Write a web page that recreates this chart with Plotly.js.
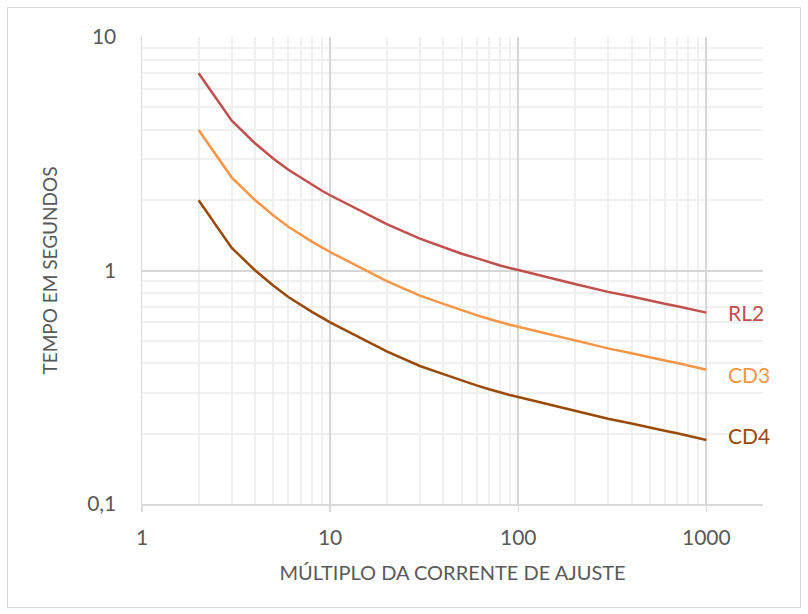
<!DOCTYPE html>
<html>
<head>
<meta charset="utf-8">
<script src="https://cdn.plot.ly/plotly-3.0.1.min.js"></script>
<style>
  html, body { margin: 0; padding: 0; background: #fff; }
  #wrap { position: relative; width: 808px; height: 614px; }
  #chart { width: 808px; height: 614px; }
  #frame { position: absolute; left: 7px; top: 7px; width: 792px; height: 599px; border: 1px solid #D9D9D9; pointer-events: none; }
</style>
</head>
<body>
<div id="wrap"><div id="chart"></div><div id="frame"></div></div>
<script>
// Multiples of setting current
const multiples = [2, 3, 4, 5, 6, 7, 8, 9, 10, 20, 30, 40, 50, 60, 70, 80, 90, 100,
                   200, 300, 400, 500, 600, 700, 800, 900, 1000];
// Operating times (s)
const rl2 = [7.0, 4.38, 3.5, 3.01, 2.7, 2.49, 2.33, 2.2, 2.1, 1.58, 1.37, 1.26, 1.18, 1.13, 1.085, 1.05, 1.025, 1.005,
             0.875, 0.81, 0.774, 0.742, 0.72, 0.703, 0.686, 0.672, 0.66];
const cd3 = [4.0, 2.5, 2.0, 1.72, 1.54, 1.42, 1.33, 1.26, 1.2, 0.9, 0.78, 0.72, 0.676, 0.644, 0.62, 0.60, 0.586, 0.574,
             0.5, 0.464, 0.442, 0.424, 0.412, 0.402, 0.392, 0.384, 0.376];
const cd4 = [2.0, 1.25, 1.0, 0.86, 0.77, 0.71, 0.665, 0.63, 0.6, 0.45, 0.39, 0.36, 0.338, 0.322, 0.31, 0.30, 0.293, 0.287,
             0.25, 0.232, 0.221, 0.212, 0.206, 0.201, 0.196, 0.192, 0.188];
const seriesNames = ['RL2', 'CD3', 'CD4'];
const seriesColors = ['#C0504D', '#F79646', '#9A4A07'];

const xTickVals = [1, 10, 100, 1000];
const xTickText = ['1', '10', '100', '1000'];
const yTickVals = [0.1, 1, 10];
const yTickText = ['0,1', '1', '10'];
const xMinor = [2,3,4,5,6,7,8,9,20,30,40,50,60,70,80,90,200,300,400,500,600,700,800,900,2000];
const yMinor = [0.2,0.3,0.4,0.5,0.6,0.7,0.8,0.9,2,3,4,5,6,7,8,9];

const data = [rl2, cd3, cd4];
const traces = data.map((ys, i) => ({
  x: multiples, y: ys, type: 'scatter', mode: 'lines', name: seriesNames[i],
  line: {color: seriesColors[i], width: 2.5}, hoverinfo: 'skip'
}));

const FONT = 'Lato, "Open Sans", sans-serif';
const labelShift = [0, -5, 4];
const annotations = data.map((ys, i) => ({
  x: Math.log10(multiples[multiples.length - 1]),
  y: Math.log10(ys[ys.length - 1]),
  xref: 'x', yref: 'y', text: seriesNames[i], showarrow: false,
  xanchor: 'left', yanchor: 'middle', xshift: 20, yshift: labelShift[i],
  font: {family: FONT, size: 21, color: seriesColors[i]}
}));

const layout = {
  width: 808, height: 614,
  margin: {l: 142, r: 45, t: 37, b: 110},
  paper_bgcolor: '#ffffff', plot_bgcolor: '#ffffff',
  showlegend: false,
  font: {family: FONT, size: 20, color: '#595959'},
  xaxis: {
    type: 'log', range: [0, Math.log10(2000)],
    tickvals: xTickVals, ticktext: xTickText,
    showgrid: true, gridcolor: '#D6D6D6', gridwidth: 2,
    minor: {tickvals: xMinor, showgrid: true, gridcolor: '#F0F0F0', gridwidth: 2, ticks: ''},
    showline: true, linecolor: '#D9D9D9', linewidth: 1.5,
    ticks: 'outside', ticklen: 6, tickcolor: '#D9D9D9', tickwidth: 1.5,
    ticklabelstandoff: 8,
    zeroline: false,
    tickfont: {family: FONT, size: 21, color: '#595959'},
    title: {text: 'MÚLTIPLO DA CORRENTE DE AJUSTE', standoff: 18,
            font: {family: FONT, size: 20, color: '#595959'}}
  },
  yaxis: {
    type: 'log', range: [-1, 1],
    tickvals: yTickVals, ticktext: yTickText,
    showgrid: true, gridcolor: '#D6D6D6', gridwidth: 2,
    minor: {tickvals: yMinor, showgrid: true, gridcolor: '#F0F0F0', gridwidth: 2, ticks: ''},
    showline: true, linecolor: '#D9D9D9', linewidth: 1.5,
    ticks: '', ticklabelstandoff: 20,
    zeroline: false,
    tickfont: {family: FONT, size: 21, color: '#595959'},
    title: {text: 'TEMPO EM SEGUNDOS', standoff: 24,
            font: {family: FONT, size: 19, color: '#595959'}}
  },
  annotations: annotations
};

Plotly.newPlot('chart', traces, layout, {staticPlot: true, displayModeBar: false});
</script>
</body>
</html>
